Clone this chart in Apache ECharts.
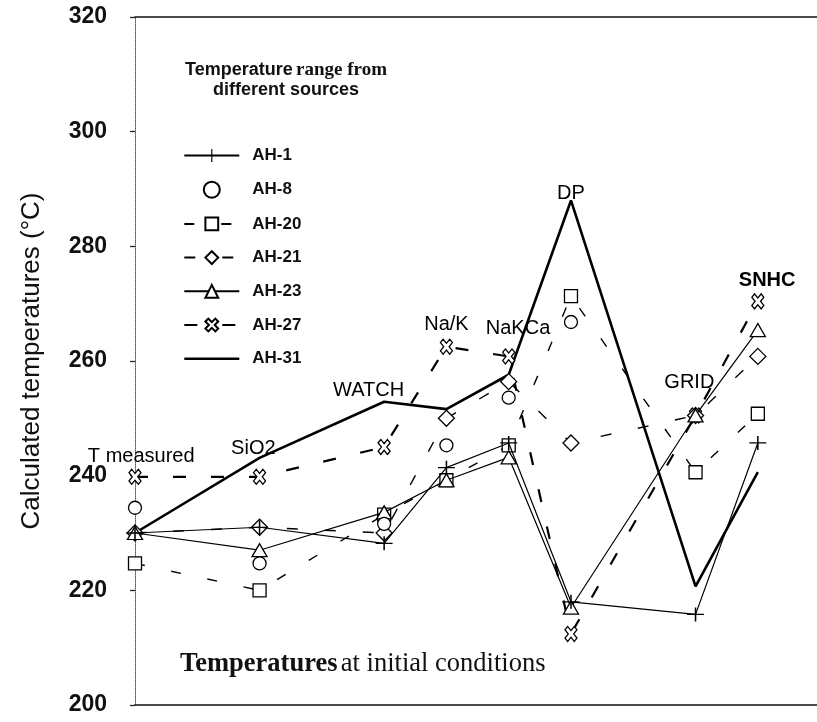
<!DOCTYPE html>
<html>
<head>
<meta charset="utf-8">
<script src="https://cdn.jsdelivr.net/npm/echarts@6/dist/echarts.min.js"></script>
<style>
  html, body { margin: 0; padding: 0; background: #fff; }
  #chart { width: 817px; height: 722px; }
</style>
</head>
<body>
<div id="chart"></div>
<script>
// Geothermometer methods along the horizontal axis and their spacing
const methods = ['T measured', 'SiO2', 'WATCH', 'Na/K', 'NaKCa', 'DP', 'GRID', 'SNHC'];
const methodX = [0, 2, 4, 5, 6, 7, 9, 10];

// Calculated temperatures (°C) per well, one value per method (null = not plotted)
const ah1  = [230, 231, 228.2, 241.4, 245.7, 218, 215.8, 245.7];
const ah8  = [234.4, 224.7, 231.6, 245.3, 253.6, 266.8, null, null];
const ah20 = [224.7, 220, 233.2, 239.2, 245.3, 271.3, 240.6, 250.8];
const ah21 = [230, 231, 230, 250, 256.4, 245.7, 250.5, 260.8];
const ah23 = [230, 227, 233.6, 239.2, 243.2, 217, 250.5, 265.4];
const ah27 = [239.8, 239.8, 245, 262.5, 260.8, 212.4, 250.5, 270.4];
const ah31 = [230, 243.1, 252.9, 251.6, 257.6, 288, 220.7, 240.6];

// Value axis range
const yMin = 200, yMax = 320, yStep = 20;

// Where each method name sits, in axis units
const methodLabelAt = [[0.1, 243.3], [1.9, 244.8], [3.75, 254.9], [5.0, 266.3],
                       [6.15, 265.6], [7.0, 289.3], [8.9, 256.3], [10.15, 274.1]];

const SANS = 'Liberation Sans, Arial, sans-serif';
const SERIF = 'Liberation Serif, Times New Roman, serif';

const plusPath = 'path://M-1,-0.09 L-0.09,-0.09 L-0.09,-1 L0.09,-1 L0.09,-0.09 L1,-0.09 L1,0.09 L0.09,0.09 L0.09,1 L-0.09,1 L-0.09,0.09 L-1,0.09 Z';
const crossPath = 'path://M-1,-0.55 L-0.55,-1 L0,-0.45 L0.55,-1 L1,-0.55 L0.45,0 L1,0.55 L0.55,1 L0,0.45 L-0.55,1 L-1,0.55 L-0.45,0 Z';

const pts = vals => vals.map((v, i) => [methodX[i], v == null ? '-' : v]);

const hollow = { color: '#fff', borderColor: '#000', borderWidth: 1.3, opacity: 1 };

function lineSeries(name, vals, line, symbol, size, item, z) {
  return {
    name, type: 'line', data: pts(vals), z,
    symbol, symbolSize: size,
    itemStyle: item,
    lineStyle: Object.assign({ color: '#000' }, line),
    emphasis: { disabled: true },
    animation: false
  };
}

const series = [
  lineSeries('AH-31', ah31, { width: 2.6 }, 'none', 0, { color: '#000' }, 2),
  lineSeries('AH-27', ah27, { width: 2.2, type: [13, 25] }, crossPath, [12, 15], hollow, 3),
  lineSeries('AH-21', ah21, { width: 1.4, type: [11, 27] }, 'diamond', [16, 16], hollow, 3),
  lineSeries('AH-20', ah20, { width: 1.4, type: [10, 27] }, 'rect', [13, 13], hollow, 3),
  lineSeries('AH-23', ah23, { width: 1.2 }, 'triangle', [15, 13], hollow, 4),
  lineSeries('AH-1', ah1, { width: 1.2 }, plusPath, [17, 14], { color: '#000' }, 5),
  {
    name: 'AH-8', type: 'scatter', z: 5,
    data: pts(ah8).filter(p => p[1] !== '-'),
    symbol: 'circle', symbolSize: 13,
    itemStyle: hollow,
    emphasis: { disabled: true },
    animation: false
  },
  {
    name: 'methods', type: 'scatter', z: 10,
    symbolSize: 1, silent: true, animation: false,
    itemStyle: { color: 'rgba(0,0,0,0)' },
    data: methods.map((m, i) => ({
      name: m, value: methodLabelAt[i],
      label: m === 'SNHC' ? { fontWeight: 'bold' } : undefined
    })),
    label: {
      show: true, position: 'inside', formatter: '{b}',
      fontFamily: SANS, fontSize: 20, color: '#000', opacity: 1,
      textBorderWidth: 0
    }
  }
];

const chart = echarts.init(document.getElementById('chart'), null, { renderer: 'canvas' });
chart.setOption({
  backgroundColor: '#fff',
  animation: false,
  grid: { left: 135, right: 0, top: 17, bottom: 17, containLabel: false },
  xAxis: [
    {
      type: 'value', min: 0, max: 10.95, position: 'bottom',
      axisLine: { show: true, onZero: false, lineStyle: { color: '#111', width: 1.5 } },
      axisTick: { show: false }, axisLabel: { show: false }, splitLine: { show: false }
    },
    {
      type: 'value', min: 0, max: 10.95, position: 'top',
      axisLine: { show: true, onZero: false, lineStyle: { color: '#111', width: 1.5 } },
      axisTick: { show: false }, axisLabel: { show: false }, splitLine: { show: false }
    }
  ],
  yAxis: {
    type: 'value', min: yMin, max: yMax, interval: yStep,
    name: 'Calculated temperatures (°C)',
    nameLocation: 'middle', nameGap: 90,
    nameTextStyle: { fontFamily: SANS, fontSize: 26, color: '#111' },
    axisLine: { show: true, lineStyle: { color: '#555', width: 1, type: 'dotted' } },
    axisTick: { show: true, length: 5, lineStyle: { color: '#222', width: 1.3 } },
    axisLabel: { margin: 28, fontFamily: SANS, fontSize: 23, fontWeight: 'bold', color: '#111' },
    splitLine: { show: false }
  },
  legend: {
    orient: 'vertical', left: 178, top: 142,
    itemWidth: 55, itemHeight: 16, itemGap: 16.7,
    selectedMode: false,
    data: ['AH-1', 'AH-8', 'AH-20', 'AH-21', 'AH-23', 'AH-27',
           { name: 'AH-31', itemStyle: { opacity: 0 }, lineStyle: { width: 2.6 } }],
    textStyle: { fontFamily: SANS, fontSize: 17, fontWeight: 'bold', color: '#111',
                 lineHeight: 16, padding: [0, 0, 0, 8] }
  },
  graphic: [
    {
      type: 'text', x: 286, y: 60, z: 20,
      style: {
        text: '{a|Temperature} {b|range from}\n{c|different sources}',
        align: 'center',
        rich: {
          a: { fontFamily: SANS, fontWeight: 'bold', fontSize: 18, lineHeight: 20, fill: '#111', align: 'center' },
          b: { fontFamily: SERIF, fontWeight: 'bold', fontSize: 19, lineHeight: 20, fill: '#111', align: 'center' },
          c: { fontFamily: SANS, fontWeight: 'bold', fontSize: 18, lineHeight: 20, fill: '#111', align: 'center' }
        }
      }
    },
    {
      type: 'text', left: 180, top: 651, z: 20,
      style: {
        text: '{a|Temperatures} {b|at initial conditions}',
        rich: {
          a: { fontFamily: SERIF, fontWeight: 'bold', fontSize: 26.5, fill: '#111' },
          b: { fontFamily: SERIF, fontSize: 26.5, fill: '#111' }
        }
      }
    }
  ],
  series
});
</script>
</body>
</html>
